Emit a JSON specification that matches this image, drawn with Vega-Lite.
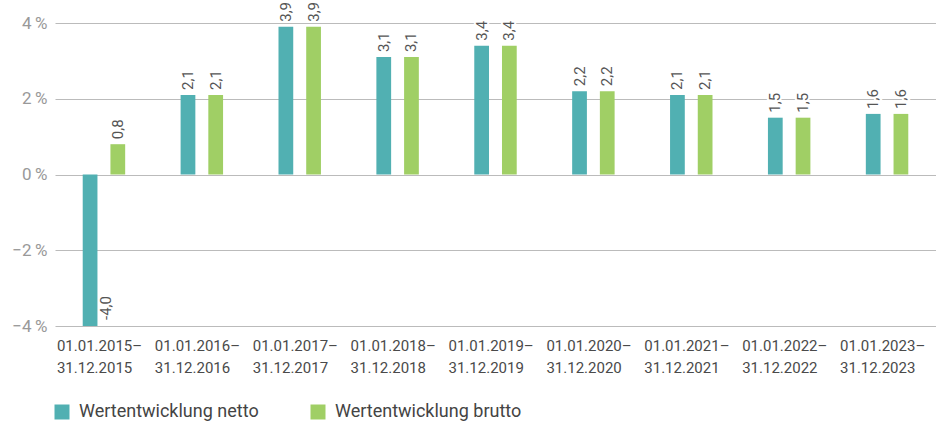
{
  "$schema": "https://vega.github.io/schema/vega-lite/v6.json",
  "width": 881,
  "height": 303,
  "autosize": "none",
  "padding": {"left": 55, "top": 23, "right": 0, "bottom": 95},
  "background": "white",
  "config": {
    "font": "Roboto",
    "view": {"stroke": null},
    "locale": {"number": {"decimal": ",", "thousands": ".", "grouping": [3], "currency": ["", " €"], "minus": "-"}}
  },
  "data": {
    "values": [
      {"period": "01.01.2015–31.12.2015", "series": "Wertentwicklung netto", "value": -4.0},
      {"period": "01.01.2015–31.12.2015", "series": "Wertentwicklung brutto", "value": 0.8},
      {"period": "01.01.2016–31.12.2016", "series": "Wertentwicklung netto", "value": 2.1},
      {"period": "01.01.2016–31.12.2016", "series": "Wertentwicklung brutto", "value": 2.1},
      {"period": "01.01.2017–31.12.2017", "series": "Wertentwicklung netto", "value": 3.9},
      {"period": "01.01.2017–31.12.2017", "series": "Wertentwicklung brutto", "value": 3.9},
      {"period": "01.01.2018–31.12.2018", "series": "Wertentwicklung netto", "value": 3.1},
      {"period": "01.01.2018–31.12.2018", "series": "Wertentwicklung brutto", "value": 3.1},
      {"period": "01.01.2019–31.12.2019", "series": "Wertentwicklung netto", "value": 3.4},
      {"period": "01.01.2019–31.12.2019", "series": "Wertentwicklung brutto", "value": 3.4},
      {"period": "01.01.2020–31.12.2020", "series": "Wertentwicklung netto", "value": 2.2},
      {"period": "01.01.2020–31.12.2020", "series": "Wertentwicklung brutto", "value": 2.2},
      {"period": "01.01.2021–31.12.2021", "series": "Wertentwicklung netto", "value": 2.1},
      {"period": "01.01.2021–31.12.2021", "series": "Wertentwicklung brutto", "value": 2.1},
      {"period": "01.01.2022–31.12.2022", "series": "Wertentwicklung netto", "value": 1.5},
      {"period": "01.01.2022–31.12.2022", "series": "Wertentwicklung brutto", "value": 1.5},
      {"period": "01.01.2023–31.12.2023", "series": "Wertentwicklung netto", "value": 1.6},
      {"period": "01.01.2023–31.12.2023", "series": "Wertentwicklung brutto", "value": 1.6}
    ]
  },
  "encoding": {
    "x": {
      "field": "period", "type": "nominal", "sort": null,
      "scale": {"paddingInner": 0, "paddingOuter": 0},
      "axis": {
        "title": null, "domain": false, "ticks": false, "grid": false,
        "labelAngle": 0, "labelFontSize": 15, "labelColor": "#4a4a4a", "labelFontWeight": 400,
        "labelPadding": 12, "labelLineHeight": 22, "labelAlign": "left", "labelOffset": -47,
        "labelExpr": "[slice(datum.value, 0, 11), slice(datum.value, 11)]"
      }
    },
    "xOffset": {
      "field": "series", "type": "nominal",
      "sort": ["Wertentwicklung netto", "Wertentwicklung brutto"],
      "scale": {"paddingInner": 0.468, "paddingOuter": 1.46}
    },
    "y": {
      "field": "value", "type": "quantitative",
      "scale": {"domain": [-4, 4], "nice": false},
      "axis": {
        "title": null, "domain": false, "ticks": false,
        "values": [-4, -2, 0, 2, 4],
        "gridColor": "#bbbbbb", "gridWidth": 1,
        "labelFontSize": 17, "labelColor": "#999999", "labelFontWeight": 400, "labelPadding": 8,
        "labelExpr": "replace(format(datum.value, 'd'), '-', '−') + '\u2009%'"
      }
    }
  },
  "layer": [
    {
      "mark": {"type": "bar", "clip": false},
      "encoding": {
        "color": {
          "field": "series", "type": "nominal",
          "sort": ["Wertentwicklung netto", "Wertentwicklung brutto"],
          "scale": {"domain": ["Wertentwicklung netto", "Wertentwicklung brutto"], "range": ["#51b0b2", "#a0cf65"]},
          "legend": {
            "title": null, "orient": "none", "direction": "horizontal",
            "legendX": -2, "legendY": 380,
            "symbolType": "square", "symbolSize": 225, "symbolStrokeWidth": 0,
            "labelFontSize": 18, "labelColor": "#444444", "labelFontWeight": 400,
            "labelOffset": 8, "columnPadding": 50, "labelLimit": 400
          }
        }
      }
    },
    {
      "transform": [{"filter": "datum.value >= 0"}],
      "mark": {"type": "text", "angle": 270, "align": "left", "baseline": "middle", "dx": 5, "fontSize": 15, "fontWeight": 400, "color": "white", "stroke": "white", "strokeWidth": 4},
      "encoding": {"text": {"field": "value", "type": "quantitative", "format": ".1f"}}
    },
    {
      "transform": [{"filter": "datum.value >= 0"}],
      "mark": {"type": "text", "angle": 270, "align": "left", "baseline": "middle", "dx": 5, "fontSize": 15, "fontWeight": 400, "color": "#555555"},
      "encoding": {"text": {"field": "value", "type": "quantitative", "format": ".1f"}}
    },
    {
      "transform": [{"filter": "datum.value < 0"}],
      "mark": {"type": "text", "angle": 270, "align": "left", "baseline": "top", "dx": 6, "dy": 9, "fontSize": 15, "fontWeight": 400, "color": "#555555"},
      "encoding": {"text": {"field": "value", "type": "quantitative", "format": ".1f"}}
    }
  ]
}
